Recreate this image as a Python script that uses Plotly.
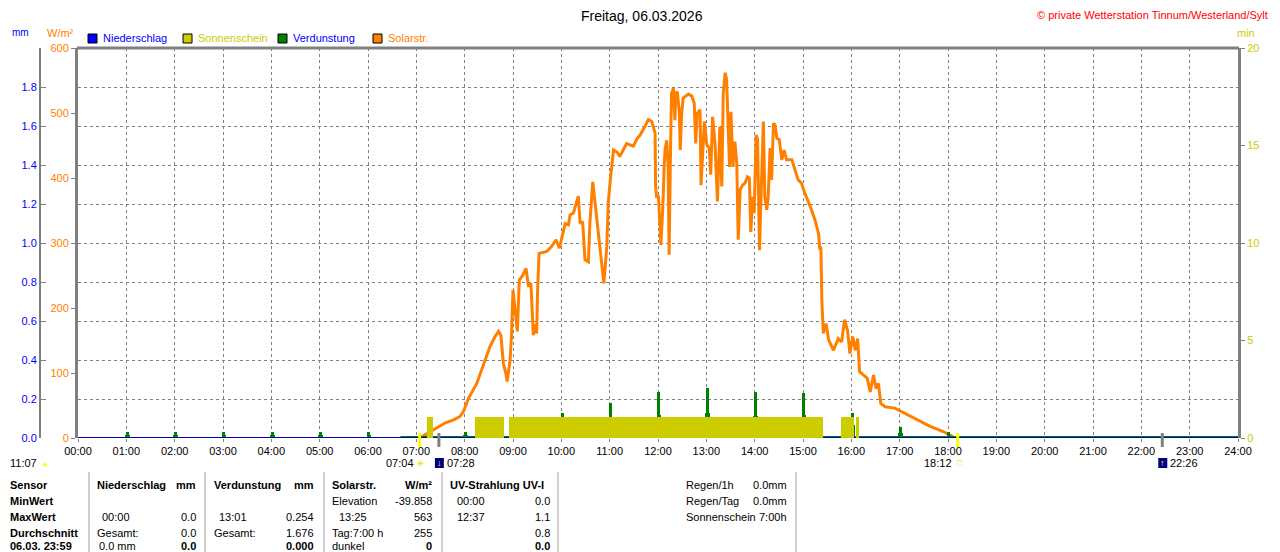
import plotly.graph_objects as go

# --- data -------------------------------------------------------------
# Solarstrahlung W/m², time in decimal hours
solar_hours = [7.07, 7.18, 7.28, 7.46, 7.59, 7.77, 7.90, 7.97, 8.08, 8.25, 8.42, 8.52, 8.62, 8.70,
               8.75, 8.80, 8.85, 8.88, 8.94, 8.97, 9.00, 9.04, 9.09, 9.13, 9.20, 9.27, 9.32, 9.37,
               9.42, 9.45, 9.49, 9.51, 9.54, 9.70, 9.80, 9.89, 9.96, 10.08, 10.15, 10.18, 10.25,
               10.35, 10.39, 10.44, 10.49, 10.56, 10.59, 10.65, 10.70, 10.77, 10.84, 10.88, 10.94,
               10.97, 11.02, 11.08, 11.15, 11.21, 11.35, 11.49, 11.57, 11.63, 11.72, 11.80, 11.87,
               11.94, 11.95, 11.97, 12.01, 12.04, 12.06, 12.10, 12.11, 12.13, 12.15, 12.18, 12.21,
               12.23, 12.26, 12.28, 12.32, 12.35, 12.37, 12.40, 12.44, 12.46, 12.49, 12.52, 12.63,
               12.70, 12.75, 12.78, 12.81, 12.87, 12.89, 12.93, 12.96, 13.01, 13.06, 13.09, 13.13,
               13.18, 13.23, 13.28, 13.32, 13.35, 13.39, 13.42, 13.44, 13.48, 13.51, 13.55, 13.59,
               13.63, 13.66, 13.70, 13.75, 13.80, 13.85, 13.89, 13.92, 13.96, 13.99, 14.03, 14.06,
               14.10, 14.13, 14.18, 14.21, 14.25, 14.28, 14.32, 14.35, 14.39, 14.42, 14.46, 14.51,
               14.56, 14.61, 14.66, 14.77, 14.84, 14.90, 14.97, 15.04, 15.15, 15.25, 15.32, 15.35,
               15.37, 15.39, 15.42, 15.48, 15.53, 15.63, 15.73, 15.80, 15.86, 15.92, 15.97, 16.03,
               16.08, 16.13, 16.17, 16.25, 16.33, 16.39, 16.46, 16.51, 16.56, 16.61, 16.70, 16.90,
               17.11, 17.35, 17.63, 17.90, 18.08, 18.12]
solar_wm2 = [0, 5, 10, 17, 23, 28, 33, 40, 61, 84, 120, 140, 155, 164,
             158, 115, 100, 87, 120, 160, 228, 200, 164, 243, 250, 261, 233, 238,
             158, 175, 161, 230, 284, 287, 295, 305, 292, 330, 328, 343, 346,
             372, 330, 333, 274, 271, 330, 394, 361, 315, 269, 238, 294,
             361, 402, 443, 440, 433, 453, 449, 461, 466, 478, 490, 487,
             469, 387, 371, 371, 310, 297, 356, 389, 423, 446, 458, 417,
             282, 448, 530, 538, 489, 530, 533, 502, 443, 499, 523, 529,
             526, 515, 453, 499, 505, 389, 458, 487, 451, 446, 405, 494,
             453, 364, 479, 387, 530, 562, 551, 515, 417, 502, 417, 456,
             423, 305, 382, 389, 392, 402, 400, 317, 371, 346, 466, 460,
             289, 366, 487, 371, 351, 371, 446, 397, 484, 482, 461, 459,
             428, 443, 428, 428, 410, 397, 392, 376, 356, 335, 315, 289,
             294, 212, 161, 176, 151, 135, 153, 148, 182, 166, 130, 156,
             135, 153, 102, 97, 92, 71, 97, 76, 84, 53, 48, 46,
             38, 29, 18, 10, 3, 0]

# Sonnenschein (min), intervals in decimal hours
sun_start = [7.23, 8.21, 8.92, 15.78, 16.09]
sun_end = [7.34, 8.81, 15.41, 16.05, 16.16]
sun_minutes = [1.1, 1.1, 1.1, 1.1, 1.1]

# Verdunstung (mm) per full hour
evap_hours = [1, 2, 3, 4, 5, 6, 8, 9, 10, 11, 12, 13, 14, 15, 16, 17, 18]
evap_peak = [0.03, 0.03, 0.03, 0.03, 0.03, 0.03, 0.03, 0.055, 0.13, 0.18, 0.235, 0.254,
             0.235, 0.23, 0.13, 0.055, 0.032]
evap_base = [0.015, 0.015, 0.015, 0.015, 0.015, 0.015, 0.015, 0.027, 0.067, 0.09, 0.118,
             0.127, 0.113, 0.12, 0.067, 0.027, 0.015]
evap_line_hours = [6.67, 24]
evap_line_mm = [0, 0]

# Niederschlag (mm)
rain_hours = [0, 24]
rain_mm = [0, 0]

sunrise, sunset = "07:04", "18:12"
moonset, moonrise = "07:28", "22:26"
moon_phase_time = "11:07"

hour_ticks = list(range(0, 25))
hour_labels = ["%02d:00" % h for h in hour_ticks]
wm2_ticks = [0, 100, 200, 300, 400, 500, 600]
mm_ticks = [0.0, 0.2, 0.4, 0.6, 0.8, 1.0, 1.2, 1.4, 1.6, 1.8]
min_ticks = [0, 5, 10, 15, 20]

# the page body has an 8px margin, so the figure is drawn 8px in from the corner
OFF = 8
W, H = 1280 - OFF, 552 - OFF
X0, X1, Y0, Y1 = 78, 1238, 48, 438
ORANGE = "#ff8000"
OLIVE = "#cccc00"
GREEN = "#008000"
BLUE = "#0000ff"
GREY = "#808080"
FONT = "Liberation Sans"


def hrs(s):
    h, m = s.split(":")
    return int(h) + int(m) / 60.0


def px(x):
    return (x - OFF) / W


def py(y):
    return 1 - (y - OFF) / H


fig = go.Figure()

# Sonnenschein bars
fig.add_trace(go.Bar(
    x=[(a + b) / 2 for a, b in zip(sun_start, sun_end)],
    width=[b - a for a, b in zip(sun_start, sun_end)],
    y=sun_minutes, yaxis="y3", marker=dict(color=OLIVE, line=dict(width=0)),
    name="Sonnenschein"))

# Verdunstung spikes
fig.add_trace(go.Bar(x=evap_hours, y=evap_base, width=0.1, offset=-0.03, yaxis="y2",
                     marker=dict(color=GREEN, line=dict(width=0)), name="Verdunstung"))
fig.add_trace(go.Bar(x=evap_hours, y=evap_peak, width=0.06, offset=-0.015, yaxis="y2",
                     marker=dict(color=GREEN, line=dict(width=0)), name="Verdunstung"))
fig.add_trace(go.Scatter(x=evap_line_hours, y=evap_line_mm, yaxis="y2", mode="lines",
                         line=dict(color=GREEN, width=4), name="Verdunstung"))
fig.add_trace(go.Scatter(x=rain_hours, y=rain_mm, yaxis="y2", mode="lines",
                         line=dict(color="#0000c0", width=2), name="Niederschlag"))

# Solarstrahlung
fig.add_trace(go.Scatter(x=solar_hours, y=solar_wm2, yaxis="y", mode="lines",
                         line=dict(color=ORANGE, width=3), name="Solarstr."))

dom_y = [py(Y1), py(Y0)]
fig.update_layout(
    width=W, height=H, margin=dict(l=0, r=0, t=0, b=0, pad=0, autoexpand=False),
    paper_bgcolor="white", plot_bgcolor="white",
    showlegend=False, barmode="overlay", bargap=0,
    font=dict(family=FONT, size=11, color="black"),
    xaxis=dict(range=[0, 24], domain=[px(X0), px(X1)], tickvals=hour_ticks,
               ticktext=hour_labels, showgrid=True, gridcolor=GREY, griddash="3px,3px",
               gridwidth=1, ticks="outside", ticklen=3, tickcolor=GREY, automargin=False,
               zeroline=False, showline=False, tickfont=dict(size=11)),
    yaxis=dict(range=[0, 600], domain=dom_y, tickvals=wm2_ticks, showgrid=False,
               zeroline=False, showline=True, linecolor=GREY, linewidth=3,
               ticks="outside", ticklen=4, tickcolor=GREY, automargin=False,
               tickfont=dict(color=ORANGE, size=11)),
    yaxis2=dict(range=[0, 2], overlaying="y", anchor="free", position=px(40), side="left",
                tickvals=mm_ticks, tickformat=".1f", showgrid=True, gridcolor=GREY,
                griddash="3px,3px", gridwidth=1, zeroline=False, showline=True,
                linecolor=GREY, linewidth=2, ticks="inside", ticklen=5, tickcolor=GREY,
                automargin=False, tickfont=dict(color=BLUE, size=11)),
    yaxis3=dict(range=[0, 20], overlaying="y", anchor="x", side="right", tickvals=min_ticks,
                showgrid=False, zeroline=False, showline=True, linecolor=GREY, linewidth=3,
                ticks="outside", ticklen=4, tickcolor=GREY, automargin=False,
                tickfont=dict(color=OLIVE, size=11)),
)

shapes = [dict(type="line", xref="paper", yref="paper", x0=px(X0 - 1), x1=px(X1 + 1),
               y0=py(Y0), y1=py(Y0), line=dict(color=GREY, width=3))]
ann = []


def text(x, y, s, color="black", anchor="left", size=11, bold=False):
    if bold:
        s = "<b>%s</b>" % s
    ann.append(dict(x=px(x), y=py(y), xref="paper", yref="paper", text=s, showarrow=False,
                    xanchor=anchor, yanchor="middle", font=dict(color=color, size=size,
                                                                family=FONT)))


# title, copyright, unit labels
text(642, 16, "Freitag, 06.03.2026", anchor="center", size=14)
text(1270, 15, "© private Wetterstation Tinnum/Westerland/Sylt", color="#ff0000",
     anchor="right", size=11)
text(20, 33, "mm", color=BLUE, anchor="center", size=10)
text(60, 33, "W/m²", color=ORANGE, anchor="center", size=11)
text(1246, 33, "min", color=OLIVE, anchor="center", size=11)

# legend
legend = [("Niederschlag", BLUE, BLUE), ("Sonnenschein", OLIVE, OLIVE),
          ("Verdunstung", GREEN, BLUE), ("Solarstr.", ORANGE, ORANGE)]
legend_x = [88, 183, 278, 373]
for (lab, fill, tcol), lx in zip(legend, legend_x):
    shapes.append(dict(type="rect", xref="paper", yref="paper", x0=px(lx), x1=px(lx + 9),
                       y0=py(43), y1=py(34), fillcolor=fill, line=dict(color="black", width=1)))
    text(lx + 13, 38, lab, color=tcol)

# sun / moon event markers below the axis
for t, col in [(sunrise, "#ffff00"), (sunset, "#ffff00"), (moonset, GREY), (moonrise, GREY)]:
    shapes.append(dict(type="line", xref="x", yref="paper", x0=hrs(t), x1=hrs(t),
                       y0=py(447), y1=py(433), line=dict(color=col, width=3)))

xs = lambda t: X0 + hrs(t) / 24 * (X1 - X0)
text(xs(sunrise) - 4, 463, sunrise, anchor="right")
text(xs(sunrise) + 1, 463, "☀", color="#f0e000", anchor="center", size=10)
text(xs(sunset) - 4, 463, sunset, anchor="right")
text(xs(sunset) + 2, 463, "□", color="#f0e000", anchor="center", size=9)
for t, arrow in [(moonset, "↓"), (moonrise, "↑")]:
    x = xs(t)
    shapes.append(dict(type="rect", xref="paper", yref="paper", x0=px(x - 4), x1=px(x + 5),
                       y0=py(468), y1=py(458), fillcolor="#000080", line=dict(width=0)))
    text(x + 0.5, 463, arrow, color="#ffff00", anchor="center", size=9, bold=True)
    text(x + 6, 463, t)
text(8, 463, moon_phase_time)
text(45, 464, "●", color="#ffff00", anchor="center", size=8)

# table
for x in [89, 205, 324, 442, 558, 796]:
    shapes.append(dict(type="line", xref="paper", yref="paper", x0=px(x), x1=px(x),
                       y0=py(472), y1=py(552), line=dict(color="#a0a0a0", width=1)))
rows = [485, 501, 517, 533, 546]
for r, s in zip(rows, ["Sensor", "MinWert", "MaxWert", "Durchschnitt", "06.03. 23:59"]):
    text(8, r, s, bold=True)

cells = [
    (95, 485, "Niederschlag", "left", True), (198, 485, "mm", "right", True),
    (100, 517, "00:00", "left", False), (198, 517, "0.0", "right", False),
    (95, 533, "Gesamt:", "left", False), (198, 533, "0.0", "right", False),
    (97, 546, "0.0 mm", "left", False), (198, 546, "0.0", "right", True),
    (212, 485, "Verdunstung", "left", True), (316, 485, "mm", "right", True),
    (217, 517, "13:01", "left", False), (316, 517, "0.254", "right", False),
    (212, 533, "Gesamt:", "left", False), (316, 533, "1.676", "right", False),
    (316, 546, "0.000", "right", True),
    (330, 485, "Solarstr.", "left", True), (434, 485, "W/m²", "right", True),
    (330, 501, "Elevation", "left", False), (434, 501, "-39.858", "right", False),
    (337, 517, "13:25", "left", False), (434, 517, "563", "right", False),
    (330, 533, "Tag:7:00 h", "left", False), (434, 533, "255", "right", False),
    (330, 546, "dunkel", "left", False), (434, 546, "0", "right", True),
    (448, 485, "UV-Strahlung UV-I", "left", True),
    (455, 501, "00:00", "left", False), (552, 501, "0.0", "right", False),
    (455, 517, "12:37", "left", False), (552, 517, "1.1", "right", False),
    (552, 533, "0.8", "right", False), (552, 546, "0.0", "right", True),
    (684, 485, "Regen/1h", "left", False), (789, 485, "0.0mm", "right", False),
    (684, 501, "Regen/Tag", "left", False), (789, 501, "0.0mm", "right", False),
    (684, 517, "Sonnenschein", "left", False), (789, 517, "7:00h", "right", False),
]
for x, y, s, a, b in cells:
    text(x, y, s, anchor=a, bold=b)

fig.update_layout(shapes=shapes, annotations=ann)
fig.write_html("out.html")
